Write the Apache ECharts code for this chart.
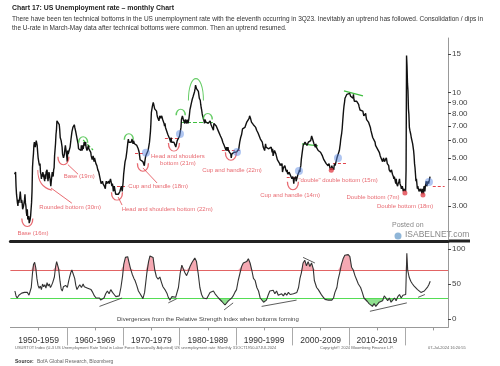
<!DOCTYPE html>
<html><head><meta charset="utf-8">
<script src="https://cdn.jsdelivr.net/npm/echarts@6/dist/echarts.min.js"></script>
<style>html,body{margin:0;padding:0;background:#fff}#c{width:500px;height:366px}</style>
</head><body><div id="c"></div>
<script>
// ---- US unemployment rate, monthly (%), by decade ----
const u1950s = [4.2,4.2,4.3,
3.7,3.4,3.4,3.1,3.0,3.2,3.1,3.1,3.3,3.5,3.5,3.1,
3.2,3.1,2.9,2.9,3.0,3.0,3.2,3.4,3.1,3.0,2.8,2.7,
2.9,2.6,2.6,2.7,2.5,2.5,2.6,2.7,2.9,3.1,3.5,4.5,
4.9,5.2,5.7,5.9,5.9,5.6,5.8,6.0,6.1,5.7,5.3,5.0,
4.9,4.7,4.6,4.7,4.3,4.2,4.0,4.2,4.1,4.3,4.2,4.2,
4.0,3.9,4.2,4.0,4.3,4.3,4.4,4.1,3.9,3.9,4.3,4.2,
4.2,3.9,3.7,3.9,4.1,4.3,4.2,4.1,4.4,4.5,5.1,5.2,
5.8,6.4,6.7,7.4,7.4,7.3,7.5,7.4,7.1,6.7,6.2,6.2,
6.0,5.9,5.6,5.2,5.1,5.0,5.1,5.2,5.5,5.7,5.8,5.3];
const u1960s = [5.2,4.8,5.4,5.2,5.1,5.4,5.5,5.6,5.5,6.1,6.1,6.6,
6.6,6.9,6.9,7.0,7.1,6.9,7.0,6.6,6.7,6.5,6.1,6.0,
5.8,5.5,5.6,5.6,5.5,5.5,5.4,5.7,5.6,5.4,5.7,5.5,
5.7,5.9,5.7,5.7,5.9,5.6,5.6,5.4,5.5,5.5,5.7,5.5,
5.6,5.4,5.4,5.3,5.1,5.2,4.9,5.0,5.1,5.1,4.8,5.0,
4.9,5.1,4.7,4.8,4.6,4.6,4.4,4.4,4.3,4.2,4.1,4.0,
4.0,3.8,3.8,3.8,3.9,3.8,3.8,3.8,3.7,3.7,3.6,3.8,
3.9,3.8,3.8,3.8,3.8,3.9,3.8,3.8,3.8,4.0,3.9,3.8,
3.7,3.8,3.7,3.5,3.5,3.7,3.7,3.5,3.4,3.4,3.4,3.4,
3.4,3.4,3.4,3.4,3.4,3.5,3.5,3.5,3.7,3.7,3.5,3.5];
const u1970s = [3.9,4.2,4.4,4.6,4.8,4.9,5.0,5.1,5.4,5.5,5.9,6.1,
5.9,5.9,6.0,5.9,5.9,5.9,6.0,6.1,6.0,5.8,6.0,6.0,
5.8,5.7,5.8,5.7,5.7,5.7,5.6,5.6,5.5,5.6,5.3,5.2,
4.9,5.0,4.9,5.0,4.9,4.9,4.8,4.8,4.8,4.6,4.8,4.9,
5.1,5.2,5.1,5.1,5.1,5.4,5.5,5.5,5.9,6.0,6.6,7.2,
8.1,8.1,8.6,8.8,9.0,8.8,8.6,8.4,8.4,8.4,8.3,8.2,
7.9,7.7,7.6,7.7,7.4,7.6,7.8,7.8,7.6,7.7,7.8,7.8,
7.5,7.6,7.4,7.2,7.0,7.2,6.9,7.0,6.8,6.8,6.8,6.4,
6.4,6.3,6.3,6.1,6.0,5.9,6.2,5.9,6.0,5.8,5.9,6.0,
5.9,5.9,5.8,5.8,5.6,5.7,5.7,6.0,5.9,6.0,5.9,6.0];
const u1980s = [6.3,6.3,6.3,6.9,7.5,7.6,7.8,7.7,7.5,7.5,7.5,7.2,
7.5,7.4,7.4,7.2,7.5,7.5,7.2,7.4,7.6,7.9,8.3,8.5,
8.6,8.9,9.0,9.3,9.4,9.6,9.8,9.8,10.1,10.4,10.8,10.8,
10.4,10.4,10.3,10.2,10.1,10.1,9.4,9.5,9.2,8.8,8.5,8.3,
8.0,7.8,7.8,7.7,7.4,7.2,7.5,7.5,7.3,7.4,7.2,7.3,
7.3,7.2,7.2,7.3,7.2,7.4,7.4,7.1,7.1,7.1,7.0,7.0,
6.7,7.2,7.2,7.1,7.2,7.2,7.0,6.9,7.0,7.0,6.9,6.6,
6.6,6.6,6.6,6.3,6.3,6.2,6.1,6.0,5.9,6.0,5.8,5.7,
5.7,5.7,5.7,5.4,5.6,5.4,5.4,5.6,5.4,5.4,5.3,5.3,
5.4,5.2,5.0,5.2,5.2,5.3,5.2,5.2,5.3,5.3,5.4,5.4];
const u1990s = [5.4,5.3,5.2,5.4,5.4,5.2,5.5,5.7,5.9,5.9,6.2,6.3,
6.4,6.6,6.8,6.7,6.9,6.9,6.8,6.9,6.9,7.0,7.0,7.3,
7.3,7.4,7.4,7.4,7.6,7.8,7.7,7.6,7.6,7.3,7.4,7.4,
7.3,7.1,7.0,7.1,7.1,7.0,6.9,6.8,6.7,6.8,6.6,6.5,
6.6,6.6,6.5,6.4,6.1,6.1,6.1,6.0,5.9,5.8,5.6,5.5,
5.6,5.4,5.4,5.8,5.6,5.6,5.7,5.7,5.6,5.5,5.6,5.6,
5.6,5.5,5.5,5.6,5.6,5.3,5.5,5.1,5.2,5.2,5.4,5.4,
5.3,5.2,5.2,5.1,4.9,5.0,4.9,4.8,4.9,4.7,4.6,4.7,
4.6,4.6,4.7,4.3,4.4,4.5,4.5,4.5,4.6,4.5,4.4,4.4,
4.3,4.4,4.2,4.3,4.2,4.3,4.3,4.2,4.2,4.1,4.1,4.0];
const u2000s = [4.0,4.1,4.0,3.8,4.0,4.0,4.0,4.1,3.9,3.9,3.9,3.9,
4.2,4.2,4.3,4.4,4.3,4.5,4.6,4.9,5.0,5.3,5.5,5.7,
5.7,5.7,5.7,5.9,5.8,5.8,5.8,5.7,5.7,5.7,5.9,6.0,
5.8,5.9,5.9,6.0,6.1,6.3,6.2,6.1,6.1,6.0,5.8,5.7,
5.7,5.6,5.8,5.6,5.6,5.6,5.5,5.4,5.4,5.5,5.4,5.4,
5.3,5.4,5.2,5.2,5.1,5.0,5.0,4.9,5.0,5.0,5.0,4.9,
4.7,4.8,4.7,4.7,4.6,4.6,4.7,4.7,4.5,4.4,4.5,4.4,
4.6,4.5,4.4,4.5,4.4,4.6,4.7,4.6,4.7,4.7,4.7,5.0,
5.0,4.9,5.1,5.0,5.4,5.6,5.8,6.1,6.1,6.5,6.8,7.3,
7.8,8.3,8.7,9.0,9.4,9.5,9.5,9.6,9.8,10.0,9.9,9.9];
const u2010s = [9.8,9.8,9.9,9.9,9.6,9.4,9.4,9.5,9.5,9.4,9.8,9.3,
9.1,9.0,9.0,9.1,9.0,9.1,9.0,9.0,9.0,8.8,8.6,8.5,
8.3,8.3,8.2,8.2,8.2,8.2,8.2,8.1,7.8,7.8,7.7,7.9,
8.0,7.7,7.5,7.6,7.5,7.5,7.3,7.2,7.2,7.2,6.9,6.7,
6.6,6.7,6.7,6.2,6.3,6.1,6.2,6.1,5.9,5.7,5.8,5.6,
5.7,5.5,5.4,5.4,5.6,5.3,5.2,5.1,5.0,5.0,5.1,5.0,
4.8,4.9,5.0,5.1,4.8,4.9,4.8,4.9,5.0,4.9,4.7,4.7,
4.7,4.6,4.4,4.4,4.4,4.3,4.3,4.4,4.3,4.2,4.2,4.1,
4.0,4.1,4.0,4.0,3.8,4.0,3.8,3.8,3.7,3.8,3.8,3.9,
4.0,3.8,3.8,3.7,3.6,3.6,3.7,3.6,3.5,3.6,3.6,3.6];
const u2020s = [3.6,3.5,4.4,14.8,13.2,11.0,10.2,8.4,7.9,6.9,6.7,6.7,
6.4,6.2,6.1,6.1,5.8,5.9,5.4,5.1,4.7,4.5,4.2,3.9,
4.0,3.8,3.6,3.7,3.6,3.6,3.5,3.6,3.5,3.6,3.6,3.5,
3.4,3.6,3.5,3.4,3.7,3.6,3.5,3.7,3.8,3.9,3.7,3.7,
3.7,3.9,3.8,3.9,4.0,4.1];

// ---- 14-period RSI [year, RSI] ----
const rsi = [[1950.8,40],[1951.0,33],[1951.2,30],[1951.5,34],[1951.8,32],[1952.0,37],[1952.3,35],[1952.5,38],[1952.8,36],[1953.0,38],[1953.3,34],[1953.5,33],[1953.7,45],[1953.9,64],[1954.1,78],[1954.3,81],[1954.5,73],[1954.7,58],[1954.9,48],[1955.1,44],[1955.3,47],[1955.5,42],[1955.7,50],[1955.9,46],[1956.1,49],[1956.3,44],[1956.5,52],[1956.7,47],[1956.9,50],[1957.1,45],[1957.3,48],[1957.5,52],[1957.8,60],[1958.0,74],[1958.2,82],[1958.35,84],[1958.55,72],[1958.8,54],[1959.0,43],[1959.2,40],[1959.4,46],[1959.6,44],[1959.8,48],[1960.1,45],[1960.3,53],[1960.5,60],[1960.7,66],[1960.9,70],[1961.1,68],[1961.4,58],[1961.6,48],[1961.8,42],[1962.0,45],[1962.3,49],[1962.6,45],[1962.9,50],[1963.1,46],[1963.4,48],[1963.7,44],[1964.0,46],[1964.3,42],[1964.6,38],[1964.9,33],[1965.2,30],[1965.5,28],[1965.8,30],[1966.0,27],[1966.3,25],[1966.6,30],[1966.9,36],[1967.2,40],[1967.5,36],[1967.8,42],[1968.1,38],[1968.4,35],[1968.7,32],[1969.0,30],[1969.3,33],[1969.6,45],[1969.9,62],[1970.1,78],[1970.4,88],[1970.6,90],[1970.8,89],[1971.0,82],[1971.3,72],[1971.6,64],[1971.9,58],[1972.1,55],[1972.4,48],[1972.7,40],[1973.0,36],[1973.3,32],[1973.5,29],[1973.8,38],[1974.0,52],[1974.2,66],[1974.5,82],[1974.75,90],[1975.0,92],[1975.3,88],[1975.6,70],[1975.9,60],[1976.2,57],[1976.5,60],[1976.8,52],[1977.05,46],[1977.4,42],[1977.8,36],[1978.0,31],[1978.3,27],[1978.65,32],[1979.0,30],[1979.3,31],[1979.55,29],[1979.8,45],[1980.1,65],[1980.4,77],[1980.65,72],[1980.95,66],[1981.25,62],[1981.55,68],[1981.85,75],[1982.15,80],[1982.45,84],[1982.7,87],[1983.0,82],[1983.3,65],[1983.6,45],[1983.9,35],[1984.2,30],[1984.5,32],[1984.8,29],[1985.1,31],[1985.4,38],[1985.7,36],[1986.0,40],[1986.3,36],[1986.6,38],[1986.9,30],[1987.2,28],[1987.5,25],[1987.75,24],[1988.05,20],[1988.35,22],[1988.65,26],[1988.95,25],[1989.25,30],[1989.5,33],[1989.8,38],[1990.1,42],[1990.4,55],[1990.7,65],[1991.0,75],[1991.3,80],[1991.6,78],[1991.9,82],[1992.2,86],[1992.5,80],[1992.8,70],[1993.1,58],[1993.4,55],[1993.7,45],[1994.0,40],[1994.3,30],[1994.6,28],[1994.9,24],[1995.2,22],[1995.4,27],[1995.7,34],[1996.0,40],[1996.3,38],[1996.6,41],[1996.9,36],[1997.2,40],[1997.5,34],[1997.8,32],[1998.1,36],[1998.4,33],[1998.7,37],[1999.0,34],[1999.3,38],[1999.6,35],[1999.9,33],[2000.2,36],[2000.5,34],[2000.8,38],[2001.1,45],[2001.35,58],[2001.6,66],[2001.9,80],[2002.2,84],[2002.5,76],[2002.8,82],[2003.1,75],[2003.4,80],[2003.7,72],[2003.9,55],[2004.1,50],[2004.3,45],[2004.6,42],[2004.9,38],[2005.2,34],[2005.5,31],[2005.8,28],[2006.1,30],[2006.4,27],[2006.7,29],[2007.0,27],[2007.3,30],[2007.55,38],[2007.9,45],[2008.1,56],[2008.4,66],[2008.7,78],[2009.0,86],[2009.3,91],[2009.6,93],[2009.9,92],[2010.2,89],[2010.5,74],[2010.8,70],[2011.1,62],[2011.4,56],[2011.7,50],[2011.9,48],[2012.1,45],[2012.4,38],[2012.7,30],[2013.0,28],[2013.3,25],[2013.6,22],[2013.9,20],[2014.2,18],[2014.5,22],[2014.8,18],[2015.1,20],[2015.4,24],[2015.7,22],[2016.0,26],[2016.3,33],[2016.6,30],[2016.9,26],[2017.2,30],[2017.5,24],[2017.8,27],[2018.1,30],[2018.4,26],[2018.7,32],[2019.0,35],[2019.3,30],[2019.6,34],[2019.9,33],[2020.1,35],[2020.3,94],[2020.45,70],[2020.7,60],[2021.0,54],[2021.3,50],[2021.6,47],[2021.9,45],[2022.2,42],[2022.5,40],[2022.8,38],[2023.1,39],[2023.4,40],[2023.7,42],[2024.0,46],[2024.2,49],[2024.45,54]];

// ---- axis ticks / labels ----
const decadeLabels = ['1950-1959','1960-1969','1970-1979','1980-1989','1990-1999','2000-2009','2010-2019'];
const decadeMids = [1955,1965,1975,1985,1995,2005,2015];
const midTicks = [1955,1965,1975,1985,1995,2005,2015,2025];
const decadeBounds = [1960,1970,1980,1990,2000,2010,2020];
const rateTicks = [3,4,5,6,7,8,9,10,15];
const rateTickLabels = ['3.00','4.00','5.00','6.00','7.00','8.00','9.00','10','15'];
const rsiTicks = [0,50,100];

// ---- annotations (data coordinates: year, rate) ----
const patternLabels = [
  [1954.0,2.25,'Base (16m)'],
  [1960.6,2.97,'Rounded bottom (30m)'],
  [1962.2,4.12,'Base (19m)'],
  [1977.8,2.91,'Head and shoulders bottom (22m)'],
  [1976.2,3.71,'Cup and handle (18m)'],
  [1979.7,4.89,'Head and shoulders\nbottom (21m)'],
  [1989.3,4.40,'Cup and handle (22m)'],
  [1999.6,3.37,'Cup and handle (14m)'],
  [2008.1,3.95,'"double" double bottom (15m)'],
  [2014.3,3.30,'Double bottom (7m)'],
  [2020.0,3.00,'Double bottom (18m)']
];
const redCups = [[1953.0,2.52],[1959.4,4.85],[1968.9,3.33],[1973.5,4.52],[1979.0,5.6],[1989.1,5.08],[2000.1,3.72]];
const roundedBottom = [[1956.1,3.95]];
const redDots = [[2006.9,4.38],[2019.96,3.44],[2023.16,3.37]];
const breakouts = [[1974.04,5.27],[1980.07,6.44],[1990.18,5.32],[2001.17,4.35],[2008.09,4.99],[2024.22,3.87]];
const greenCaps = [[1962.9,6.05],[1971.0,6.25],[1980.2,8.1],[1985.0,7.75]];
const bigCap = [[1982.9,10.3]];
const redNecklines = [[1968.9,1970.7,3.71],[1972.1,1973.9,5.27],[1977.4,1979.7,6.17],[1987.5,1990.7,5.43],[1999.0,2000.8,4.08],[2007.2,2009.7,4.73],[2024.9,2027.0,3.71]];
const redLeaders = [[1957.2,3.63,1960.9,3.09],[1960.2,4.65,1962.0,4.2],[1969.1,3.30,1969.8,3.03],[1973.5,4.49,1976.0,3.83]];
const greenDashed = [[1962.9,6.04,1964.65,5.43],[1980.25,7.31,1985.9,7.31]];
const greenSolid = [[2001.7,5.79,2004.54,5.67],[2009.15,10.16,2012.52,9.64]];
const divergences = [[1965.8,18,1969.8,30],[1978.0,23,1979.5,29],[1987.9,13,1989.5,23],[1994.55,18,2000.75,27],[2001.9,88,2004.0,80],[2013.75,11,2020.3,23],[2022.3,31,2023.5,35]];

// ---------------------------------------------------------
const L = Math.log10;
function monthly(y0, m0, vals){ return vals.map((v,i)=>[y0 + (m0-1+i)/12, L(v)]); }
const uData = [].concat(
  monthly(1950,10,u1950s), monthly(1960,1,u1960s), monthly(1970,1,u1970s),
  monthly(1980,1,u1980s), monthly(1990,1,u1990s), monthly(2000,1,u2000s),
  monthly(2010,1,u2010s), monthly(2020,1,u2020s));
const lg = a => [a[0], L(a[1])];

const RED = '#e2454d', GREEN = '#3fbf3f', BLUE = 'rgba(90,135,225,0.6)';
const FONT = 'Liberation Sans, Arial, sans-serif';
const XMIN = 1950, XMAX = 2027.6;

const segs = (arr, style, yf) => arr.map(s => [
  {coord:[s[0], yf(s[1])], lineStyle: style},
  {coord:[s[2], yf(s[3])]}
]);
const hseg = (arr, style) => arr.map(s => [
  {coord:[s[0], L(s[2])], lineStyle: style},
  {coord:[s[1], L(s[2])]}
]);

const chart = echarts.init(document.getElementById('c'), null, {renderer:'canvas'});
chart.setOption({
  animation:false,
  backgroundColor:'#fff',
  textStyle:{fontFamily:FONT},
  grid:[
    {left:10.4, right:52, top:38, height:203, outerBoundsMode:'none'},
    {left:10.4, right:52, top:242, height:85.4, outerBoundsMode:'none'}
  ],
  xAxis:[
    {gridIndex:0, type:'value', min:XMIN, max:XMAX, axisLine:{show:true, onZero:false, lineStyle:{color:'#222', width:3}},
     axisTick:{show:false}, axisLabel:{show:false}, splitLine:{show:false}},
    {gridIndex:1, type:'value', min:XMIN, max:XMAX, position:'bottom',
     axisLine:{show:true, onZero:false, lineStyle:{color:'#999', width:1}},
     axisTick:{show:true, length:3, customValues:midTicks, lineStyle:{color:'#999'}},
     axisLabel:{show:true, customValues:decadeMids, margin:9, fontSize:8.5, color:'#333', fontFamily:FONT,
       formatter:v=>decadeLabels[decadeMids.indexOf(Math.round(v))] || ''},
     splitLine:{show:false}},
    {gridIndex:1, type:'value', min:XMIN, max:XMAX, position:'bottom',
     axisLine:{show:false, onZero:false},
     axisTick:{show:true, length:18, customValues:decadeBounds, lineStyle:{color:'#aaa'}},
     axisLabel:{show:false}, splitLine:{show:false}}
  ],
  yAxis:[
    {gridIndex:0, type:'value', position:'right', min:L(2.07), max:L(17.8),
     axisLine:{show:true, lineStyle:{color:'#999'}},
     axisTick:{show:true, length:3, customValues:rateTicks.map(L), lineStyle:{color:'#444'}},
     axisLabel:{show:true, customValues:rateTicks.map(L), margin:4, fontSize:8, color:'#444', fontFamily:FONT,
       formatter:v=>{ let best=0; rateTicks.forEach((t,i)=>{ if (Math.abs(L(t)-v) < Math.abs(L(rateTicks[best])-v)) best=i; }); return rateTickLabels[best]; }},
     splitLine:{show:false}},
    {gridIndex:1, type:'value', position:'right', min:-12, max:110,
     axisLine:{show:true, lineStyle:{color:'#999'}},
     axisTick:{show:true, length:3, customValues:rsiTicks, lineStyle:{color:'#444'}},
     axisLabel:{show:true, customValues:rsiTicks, margin:4, fontSize:8, color:'#444', fontFamily:FONT},
     splitLine:{show:false}}
  ],
  series:[
    {type:'line', name:'US unemployment rate', xAxisIndex:0, yAxisIndex:0, data:uData, showSymbol:false, symbol:'none',
     lineStyle:{color:'#111', width:1.4}, z:5,
     markLine:{silent:true, symbol:'none', label:{show:false}, animation:false,
       data:[].concat(
         hseg(redNecklines, {color:RED, width:1, type:[3,2]}),
         segs(redLeaders, {color:RED, width:0.8, type:'solid'}, L),
         segs(greenDashed, {color:GREEN, width:1.2, type:[4,2]}, L),
         segs(greenSolid, {color:GREEN, width:1.2, type:'solid'}, L)
       )}},
    {type:'scatter', xAxisIndex:0, yAxisIndex:0, data:redCups.map(lg), symbol:'path://M0,0 C0,13 20,13 20,0',
     symbolSize:[11,8], itemStyle:{color:'rgba(0,0,0,0)', borderColor:RED, borderWidth:1.1}, z:6, silent:true},
    {type:'scatter', xAxisIndex:0, yAxisIndex:0, data:roundedBottom.map(lg), symbol:'path://M0,0 C0,14 8,20 20,22',
     symbolSize:[14,20], itemStyle:{color:'rgba(0,0,0,0)', borderColor:RED, borderWidth:1.1}, z:6, silent:true},
    {type:'scatter', xAxisIndex:0, yAxisIndex:0, data:redDots.map(lg), symbol:'circle', symbolSize:5,
     itemStyle:{color:RED}, z:6, silent:true},
    {type:'scatter', xAxisIndex:0, yAxisIndex:0, data:breakouts.map(lg), symbol:'circle', symbolSize:8,
     itemStyle:{color:BLUE}, z:6, silent:true},
    {type:'scatter', xAxisIndex:0, yAxisIndex:0, data:greenCaps.map(lg), symbol:'path://M0,12 C0,-3 20,-3 20,12',
     symbolSize:[9,6], itemStyle:{color:'rgba(0,0,0,0)', borderColor:GREEN, borderWidth:1.2}, z:6, silent:true},
    {type:'scatter', xAxisIndex:0, yAxisIndex:0, data:bigCap.map(lg), symbol:'path://M0,30 C0,-9 20,-9 20,30',
     symbolSize:[15,22], itemStyle:{color:'rgba(0,0,0,0)', borderColor:GREEN, borderWidth:1.2}, z:6, silent:true},
    {type:'scatter', xAxisIndex:0, yAxisIndex:0, data:patternLabels.map(p=>[p[0], L(p[1]), p[2]]),
     symbolSize:1, itemStyle:{color:'rgba(0,0,0,0)'}, z:7, silent:true,
     label:{show:true, position:'inside', formatter:p=>p.data[2], color:RED, fontSize:6, fontFamily:FONT, lineHeight:7, align:'center'}},
    {type:'line', name:'RSI', xAxisIndex:1, yAxisIndex:1, data:rsi, showSymbol:false, symbol:'none',
     lineStyle:{color:'#333', width:1.1}, z:5,
     markLine:{silent:true, symbol:'none', label:{show:false}, animation:false,
       data:[].concat(
         [{yAxis:70, lineStyle:{color:'#e26464', width:1, type:'solid'}}, {yAxis:30, lineStyle:{color:'#55dd55', width:1, type:'solid'}}],
         segs(divergences, {color:'#333', width:0.8, type:'solid'}, v=>v)
       )}},
    {type:'line', xAxisIndex:1, yAxisIndex:1, data:rsi.map(p=>[p[0], Math.max(p[1],70)]), showSymbol:false, symbol:'none',
     lineStyle:{width:0, opacity:0}, areaStyle:{origin:70, color:'#f5a9b3', opacity:1}, z:2, silent:true},
    {type:'line', xAxisIndex:1, yAxisIndex:1, data:rsi.map(p=>[p[0], Math.min(p[1],30)]), showSymbol:false, symbol:'none',
     lineStyle:{width:0, opacity:0}, areaStyle:{origin:30, color:'#8fe08f', opacity:1}, z:2, silent:true}
  ],
  graphic:[
    {type:'text', left:12, top:5, style:{text:'Chart 17: US Unemployment rate \u2013 monthly Chart', font:'bold 6.9px '+FONT, fill:'#222'}},
    {type:'text', left:12, top:16, style:{text:'There have been ten technical bottoms in the US unemployment rate with the eleventh occurring in 3Q23. Inevitably an uptrend has followed. Consolidation / dips in', font:'6.5px '+FONT, fill:'#333'}},
    {type:'text', left:12, top:25, style:{text:'the U-rate in March-May data after technical bottoms were common. Then an uptrend resumed.', font:'6.5px '+FONT, fill:'#333'}},
    {type:'line', shape:{x1:448, y1:241, x2:470, y2:241}, style:{stroke:'#222', lineWidth:3}},
    {type:'text', left:392, top:222, style:{text:'Posted on', font:'7px '+FONT, fill:'#888'}},
    {type:'text', left:405, top:230, style:{text:'ISABELNET.com', font:'8.5px '+FONT, fill:'#888'}},
    {type:'circle', shape:{cx:398, cy:236, r:3.5}, style:{fill:'#8fb6d8'}},
    {type:'text', left:117, top:316, style:{text:'Divergences from the Relative Strength Index when bottoms forming', font:'6px '+FONT, fill:'#444'}},
    {type:'text', left:15, top:346, style:{text:'USURTOT Index (U-3 US Unemployment Rate Total in Labor Force Seasonally Adjusted) US unemployment rate  Monthly 31OCT1950-07JUL2024', font:'4px '+FONT, fill:'#666'}},
    {type:'text', left:320, top:346, style:{text:'Copyright\u00a9 2024 Bloomberg Finance L.P.', font:'4px '+FONT, fill:'#666'}},
    {type:'text', left:428, top:346, style:{text:'07-Jul-2024 16:20:55', font:'4px '+FONT, fill:'#666'}},
    {type:'text', left:15, top:356, style:{rich:{b:{font:'bold 5px '+FONT, fill:'#333'}, n:{font:'5px '+FONT, fill:'#666'}}, text:'{b|Source:} {n|BofA Global Research, Bloomberg}'}}
  ]
});
</script></body></html>
